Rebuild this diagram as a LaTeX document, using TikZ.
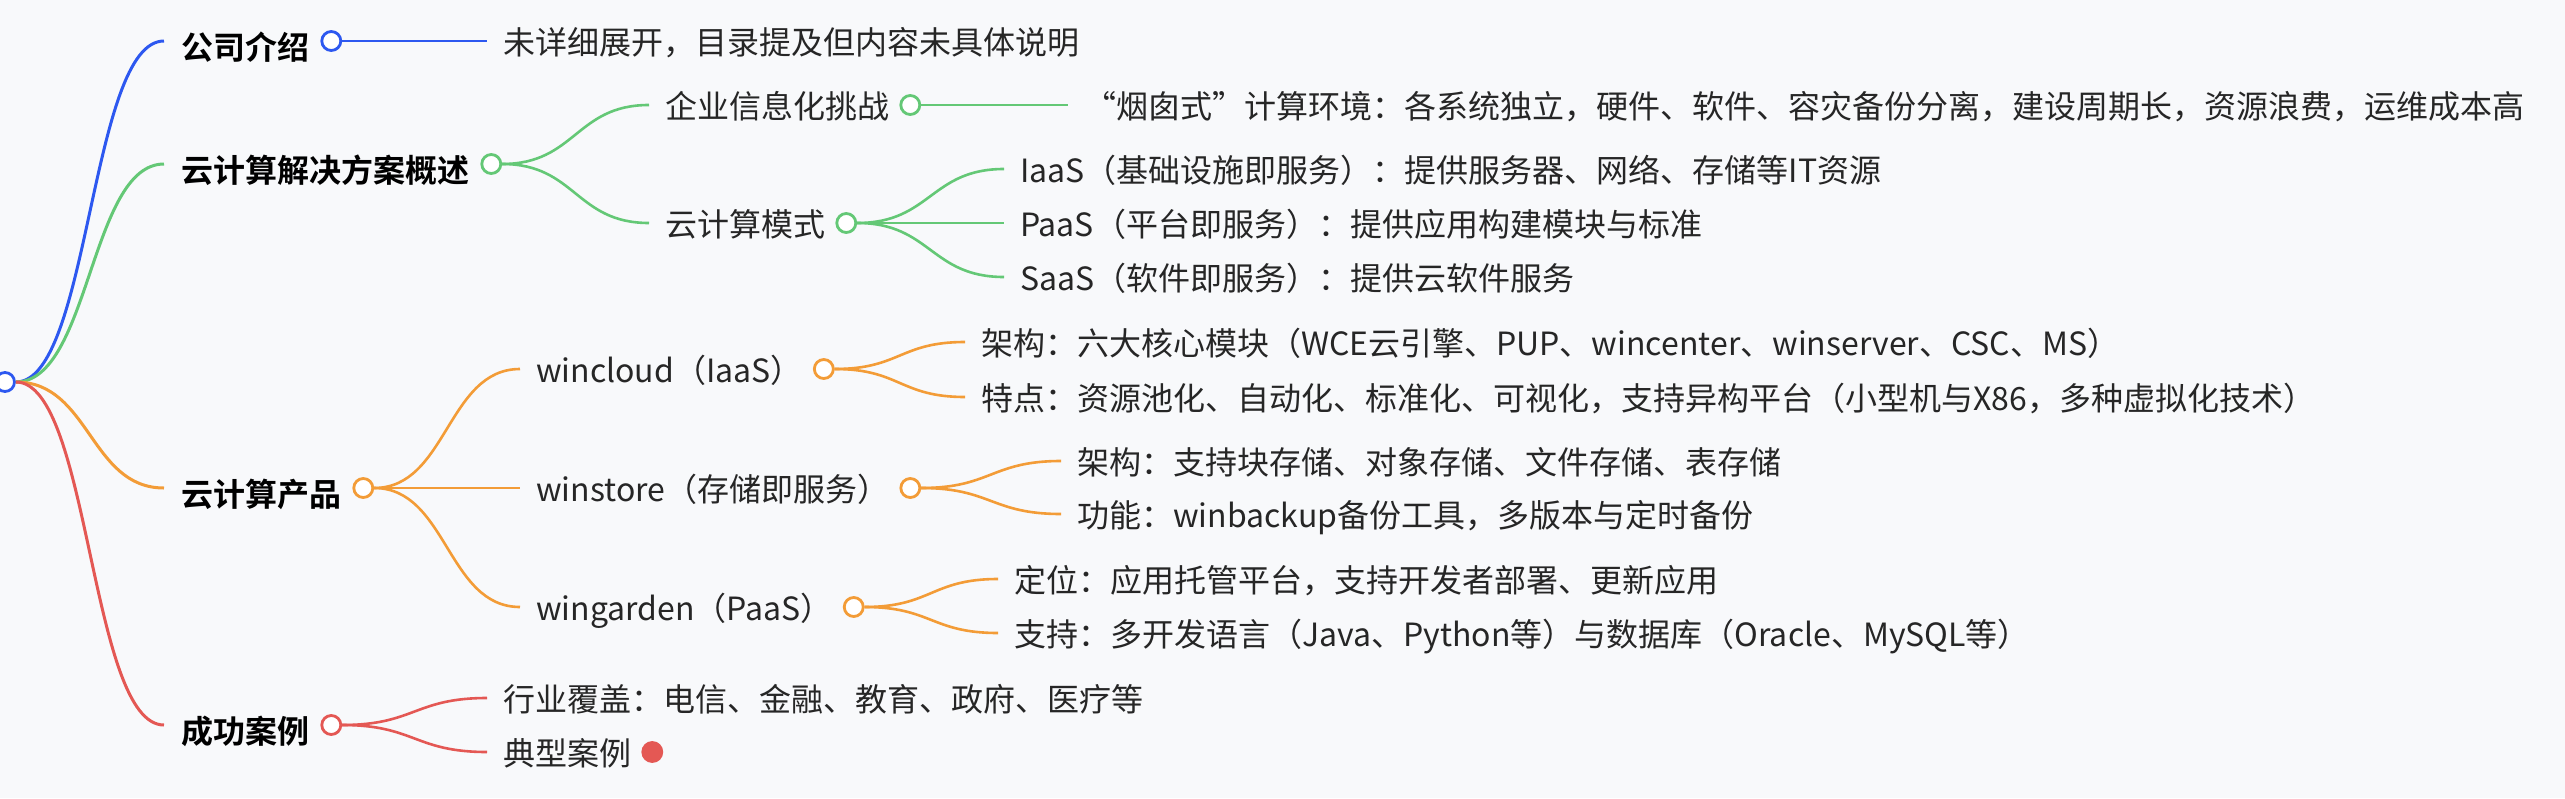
\documentclass[tikz,border=0pt]{standalone}
\usepackage{fontspec}
\setmainfont{Noto Sans CJK SC}[BoldFont={Noto Sans CJK SC Bold}]
\usepackage{tikz}
\usetikzlibrary{positioning,calc}
\definecolor{cblue}{RGB}{45,88,240}
\definecolor{cgreen}{RGB}{100,200,118}
\definecolor{corange}{RGB}{243,156,55}
\definecolor{cred}{RGB}{228,88,84}
\definecolor{ink}{RGB}{38,38,38}
\definecolor{paper}{RGB}{248,249,251}
\newcommand{\fwq}[1]{{\addfontfeature{CharacterWidth=Full}#1}}

\begin{document}
\begin{tikzpicture}[
					x=1pt,y=-1pt,
					knob/.style={circle,draw=#1,fill=white,line width=2.8pt,minimum size=19pt,inner sep=0pt},
					topic/.style={anchor=west,font=\bfseries\fontsize{32pt}{38pt}\selectfont,text=black,inner xsep=17pt,inner ysep=0pt,text height=41pt,text depth=4pt},
					leaf/.style={anchor=west,font=\fontsize{32pt}{38pt}\selectfont,text=ink,inner xsep=16pt,inner ysep=0pt,text height=30pt,text depth=4pt},
					branch/.style={draw=#1,line width=2.6pt}
					]
					\fill[paper] (0,0) rectangle (2565,798);
					\useasboundingbox (0,0) rectangle (2565,798);
					\node[knob=cblue] (root) at (5,382) {};
					\node[topic] (intro) at (164,41) {公司介绍};
					\node[topic] (plan) at (164,164) {云计算解决方案概述};
					\node[topic] (prod) at (164,488) {云计算产品};
					\node[topic] (case) at (164,725) {成功案例};
					\node[leaf] (introtxt) at (487,41) {未详细展开，目录提及但内容未具体说明};
					\node[leaf] (chal) at (649,105) {企业信息化挑战};
					\node[leaf] (chaltxt) at (1068,105) {\fwq{“}烟囱式\fwq{”}计算环境：各系统独立，硬件、软件、容灾备份分离，建设周期长，资源浪费，运维成本高};
					\node[leaf] (mode) at (649,223) {云计算模式};
					\node[leaf] (iaas) at (1004,169) {IaaS（基础设施即服务）：提供服务器、网络、存储等IT资源};
					\node[leaf] (paas) at (1004,223) {PaaS（平台即服务）：提供应用构建模块与标准};
					\node[leaf] (saas) at (1004,277) {SaaS（软件即服务）：提供云软件服务};
					\node[leaf] (wcloud) at (520,369) {wincloud（IaaS）};
					\node[leaf] (wcarch) at (965,342) {架构：六大核心模块（WCE云引擎、PUP、wincenter、winserver、CSC、MS）};
					\node[leaf] (wcfeat) at (965,397) {特点：资源池化、自动化、标准化、可视化，支持异构平台（小型机与X86，多种虚拟化技术）};
					\node[leaf] (wstore) at (520,488) {winstore（存储即服务）};
					\node[leaf] (wsarch) at (1061,461) {架构：支持块存储、对象存储、文件存储、表存储};
					\node[leaf] (wsfunc) at (1061,514) {功能：winbackup备份工具，多版本与定时备份};
					\node[leaf] (wgarden) at (520,607) {wingarden（PaaS）};
					\node[leaf] (wgpos) at (998,579) {定位：应用托管平台，支持开发者部署、更新应用};
					\node[leaf] (wgsup) at (998,633) {支持：多开发语言（Java、Python等）与数据库（Oracle、MySQL等）};
					\node[leaf] (industry) at (487,698) {行业覆盖：电信、金融、教育、政府、医疗等};
					\node[leaf] (typical) at (487,752) {典型案例};
					\foreach \n/\c in {intro/cblue,plan/cgreen,prod/corange,case/cred,chal/cgreen,mode/cgreen,wcloud/corange,wstore/corange,wgarden/corange}{
						\node[knob=\c,right=-6pt of \n] (\n knob) {};
					}
					\node[knob=cred,fill=cred,right=-6pt of typical] (typicalknob) {};
					\foreach \b/\c in {intro/cblue,plan/cgreen,prod/corange,case/cred}{
						\draw[branch=\c,line width=3pt] let \p1=(root.east), \p2=(\b.west) in (\p1) .. controls ({(\x1+\x2)/2},\y1) and ({(\x1+\x2)/2},\y2) .. (\p2);
					}
					\foreach \a/\b/\c in {intro/introtxt/cblue,plan/chal/cgreen,plan/mode/cgreen,chal/chaltxt/cgreen,mode/iaas/cgreen,mode/paas/cgreen,mode/saas/cgreen,prod/wcloud/corange,prod/wstore/corange,prod/wgarden/corange,wcloud/wcarch/corange,wcloud/wcfeat/corange,wstore/wsarch/corange,wstore/wsfunc/corange,wgarden/wgpos/corange,wgarden/wgsup/corange,case/industry/cred,case/typical/cred}{
						\draw[branch=\c] let \p1=(\a knob.east), \p2=(\b.west) in (\p1) .. controls ({(\x1+\x2)/2},\y1) and ({(\x1+\x2)/2},\y2) .. (\p2);
					}
				\end{tikzpicture}
\end{document}
